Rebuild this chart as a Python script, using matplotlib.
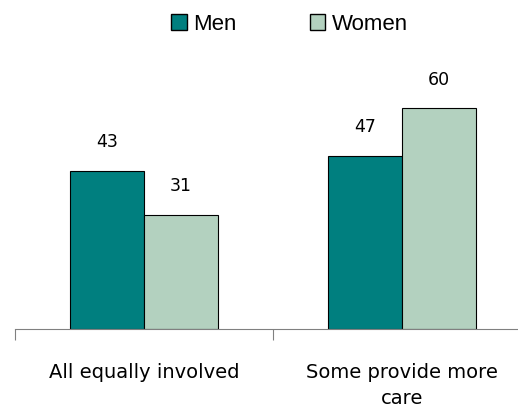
import matplotlib.pyplot as plt
import numpy as np
from matplotlib.patches import Patch

categories = ['All equally involved', 'Some provide more\ncare']
men = [43, 47]
women = [31, 60]

MEN_COLOR = '#007f7f'
WOMEN_COLOR = '#b3d1bf'

fig = plt.figure(figsize=(5.18, 4.13), dpi=100)
ax = fig.add_axes([15 / 518, 84 / 413, 516 / 518, 294 / 413])

x = np.arange(len(categories))
w = 0.287
ax.bar(x - w / 2, men, w, color=MEN_COLOR, edgecolor='black', linewidth=0.8, label='Men')
ax.bar(x + w / 2, women, w, color=WOMEN_COLOR, edgecolor='black', linewidth=0.8, label='Women')

for xi, v in zip(x - w / 2, men):
    ax.text(xi, v + 6.5, str(v), ha='center', va='baseline', fontsize=12.5, family='DejaVu Sans')
for xi, v in zip(x + w / 2, women):
    ax.text(xi, v + 6.5, str(v), ha='center', va='baseline', fontsize=12.5, family='DejaVu Sans')

ax.set_xlim(-0.5, 1.5)
ax.set_ylim(0, 80)
for s in ['top', 'right', 'left']:
    ax.spines[s].set_visible(False)
ax.spines['bottom'].set_color('#808080')
ax.set_yticks([])
ax.set_xticks([-0.5, 0.5, 1.5])
ax.set_xticklabels([])
ax.tick_params(axis='x', length=8, color='#808080', direction='out')
for xi, lab in zip(x, categories):
    ax.text(xi, -9.2, lab, ha='center', va='top', fontsize=14, linespacing=1.45,
            family='DejaVu Sans', clip_on=False)

handles = [Patch(facecolor=MEN_COLOR, edgecolor='black', label='Men'),
           Patch(facecolor=WOMEN_COLOR, edgecolor='black', label='Women')]
fig.legend(handles=handles, loc='center left', bbox_to_anchor=(171 / 518, 1 - 24 / 413), ncol=2,
           frameon=False, prop={'family': 'Liberation Sans', 'size': 16},
           handlelength=0.7, handleheight=0.7, handletextpad=0.3, columnspacing=3.3,
           borderpad=0.0, borderaxespad=0.0)

fig.savefig('out.png', dpi=100)
